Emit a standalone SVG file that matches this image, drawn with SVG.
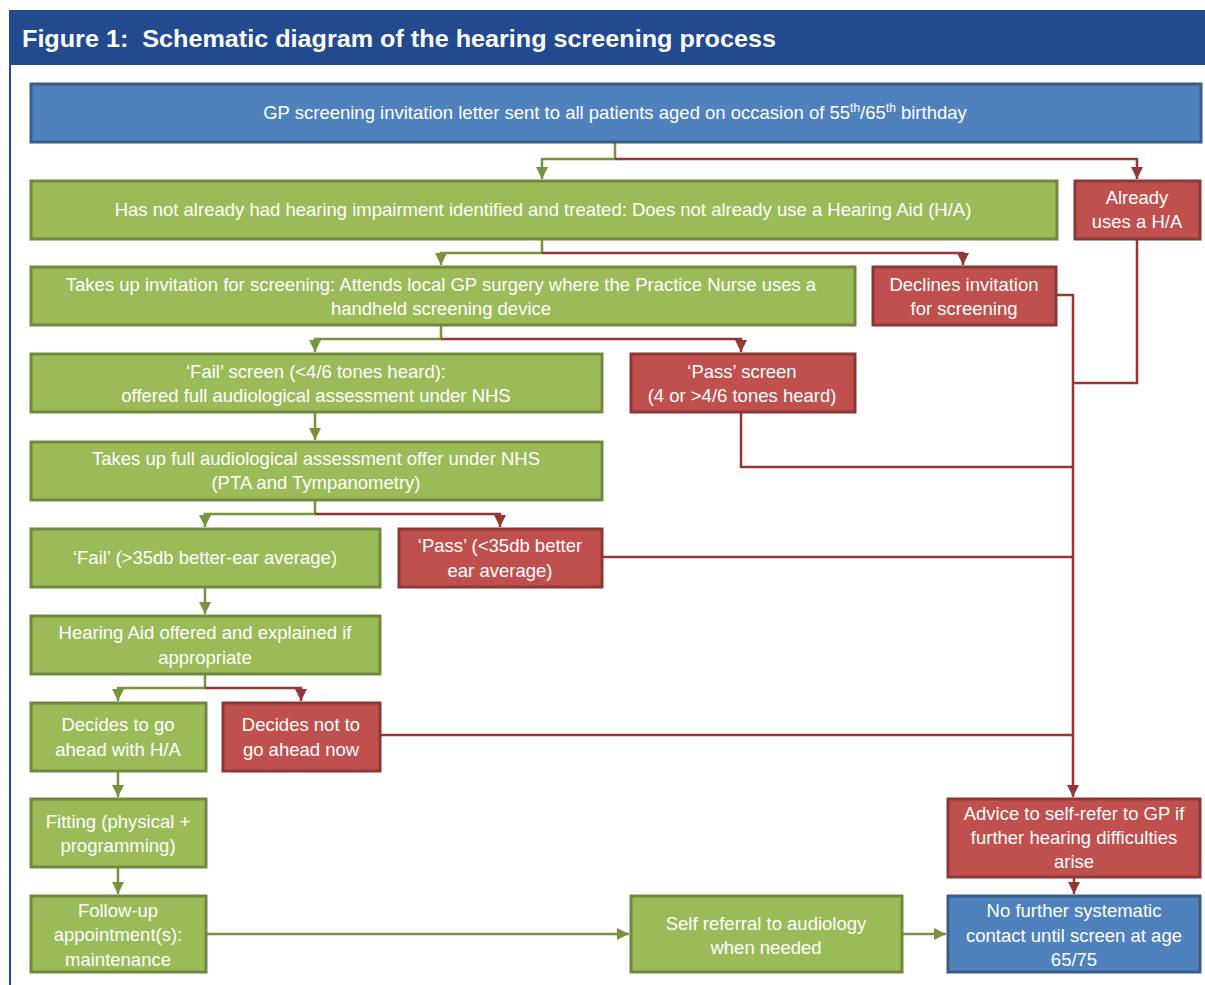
<svg xmlns="http://www.w3.org/2000/svg" width="1205" height="985" viewBox="0 0 1205 985">
<style>
  text { font-family: "Liberation Sans", Arial, sans-serif; font-size: 18.5px; fill: #ffffff; text-anchor: middle; }
  .title { font-size: 24px; font-weight: bold; text-anchor: start; }
  .g { fill: #9BBB59; stroke: #71893F; stroke-width: 3; }
  .r { fill: #C0504D; stroke: #8C3836; stroke-width: 3; }
  .b { fill: #4F81BD; stroke: #385D8A; stroke-width: 3; }
  .cg { fill: none; stroke: #77933C; stroke-width: 2.5; }
  .cr { fill: none; stroke: #953735; stroke-width: 2.5; }
</style>
<defs>
  <marker id="ag" viewBox="0 0 10 10" refX="10" refY="5" markerWidth="5" markerHeight="5" orient="auto" markerUnits="strokeWidth">
    <path d="M0,0 L10,5 L0,10 z" fill="#77933C"/>
  </marker>
  <marker id="ar" viewBox="0 0 10 10" refX="10" refY="5" markerWidth="5" markerHeight="5" orient="auto" markerUnits="strokeWidth">
    <path d="M0,0 L10,5 L0,10 z" fill="#953735"/>
  </marker>
</defs>
<rect x="0" y="0" width="1205" height="985" fill="#ffffff"/>
<g id="header">
  <rect x="9" y="10" width="1196" height="55" fill="#23498F"/>
  <line x1="10" y1="65" x2="10" y2="985" stroke="#23498F" stroke-width="2"/>
  <text class="title" x="22" y="47" textLength="754" lengthAdjust="spacingAndGlyphs">Figure 1:&#160; Schematic diagram of the hearing screening process</text>
</g>
<g id="connectors">
  <polyline class="cg" points="615,142 615,159 542,159 542,179" marker-end="url(#ag)"/>
  <polyline class="cr" points="615,159 1137,159 1137,179" marker-end="url(#ar)"/>
  <polyline class="cg" points="542,239 542,253 441,253 441,265" marker-end="url(#ag)"/>
  <polyline class="cr" points="542,253 963,253 963,265" marker-end="url(#ar)"/>
  <polyline class="cg" points="441,325 441,339 315,339 315,352" marker-end="url(#ag)"/>
  <polyline class="cr" points="441,339 741,339 741,352" marker-end="url(#ar)"/>
  <polyline class="cg" points="315,412 315,440" marker-end="url(#ag)"/>
  <polyline class="cg" points="315,500 315,514 205,514 205,527" marker-end="url(#ag)"/>
  <polyline class="cr" points="315,514 500,514 500,527" marker-end="url(#ar)"/>
  <polyline class="cg" points="205,587 205,614" marker-end="url(#ag)"/>
  <polyline class="cg" points="205,674 205,688 118,688 118,701" marker-end="url(#ag)"/>
  <polyline class="cr" points="205,688 301,688 301,701" marker-end="url(#ar)"/>
  <polyline class="cg" points="118,771 118,797" marker-end="url(#ag)"/>
  <polyline class="cg" points="118,867 118,894" marker-end="url(#ag)"/>
  <polyline class="cg" points="206,934 629,934" marker-end="url(#ag)"/>
  <polyline class="cg" points="902,934 946,934" marker-end="url(#ag)"/>
  <polyline class="cr" points="1056,295 1073,295 1073,797" marker-end="url(#ar)"/>
  <polyline class="cr" points="1137,239 1137,383 1073,383"/>
  <polyline class="cr" points="741,412 741,467 1073,467"/>
  <polyline class="cr" points="602,557 1073,557"/>
  <polyline class="cr" points="380,735 1073,735"/>
  <polyline class="cr" points="1074,877 1074,894" marker-end="url(#ar)"/>
</g>
<g id="n1">
  <rect class="b" x="31" y="84" width="1170" height="58"/>
  <text x="615" y="119">GP screening invitation letter sent to all patients aged on occasion of 55<tspan font-size="12" dy="-7">th</tspan><tspan dy="7">/65</tspan><tspan font-size="12" dy="-7">th</tspan><tspan dy="7"> birthday</tspan></text>
</g>
<g id="n2">
  <rect class="g" x="31" y="181" width="1026" height="58"/>
  <text x="543" y="216">Has not already had hearing impairment identified and treated: Does not already use a Hearing Aid (H/A)</text>
</g>
<g id="n3">
  <rect class="r" x="1075" y="181" width="125" height="58"/>
  <text x="1137" y="204">Already</text>
  <text x="1137" y="228">uses a H/A</text>
</g>
<g id="n4">
  <rect class="g" x="31" y="267" width="824" height="58"/>
  <text x="441" y="291">Takes up invitation for screening: Attends local GP surgery where the Practice Nurse uses a</text>
  <text x="441" y="315">handheld screening device</text>
</g>
<g id="n5">
  <rect class="r" x="873" y="267" width="183" height="58"/>
  <text x="964" y="291">Declines invitation</text>
  <text x="964" y="315">for screening</text>
</g>
<g id="n6">
  <rect class="g" x="31" y="354" width="571" height="58"/>
  <text x="316" y="378">‘Fail’ screen (&lt;4/6 tones heard):</text>
  <text x="316" y="402">offered full audiological assessment under NHS</text>
</g>
<g id="n7">
  <rect class="r" x="631" y="354" width="224" height="58"/>
  <text x="742" y="378">‘Pass’ screen</text>
  <text x="742" y="402">(4 or &gt;4/6 tones  heard)</text>
</g>
<g id="n8">
  <rect class="g" x="31" y="442" width="571" height="58"/>
  <text x="316" y="465">Takes up full audiological assessment offer under NHS</text>
  <text x="316" y="489">(PTA and Tympanometry)</text>
</g>
<g id="n9">
  <rect class="g" x="31" y="529" width="349" height="58"/>
  <text x="205" y="564">‘Fail’ (&gt;35db better-ear average)</text>
</g>
<g id="n10">
  <rect class="r" x="399" y="529" width="203" height="58"/>
  <text x="500" y="552">‘Pass’ (&lt;35db better</text>
  <text x="500" y="577">ear average)</text>
</g>
<g id="n11">
  <rect class="g" x="31" y="616" width="349" height="58"/>
  <text x="205" y="639">Hearing Aid offered and explained if</text>
  <text x="205" y="664">appropriate</text>
</g>
<g id="n12">
  <rect class="g" x="31" y="703" width="175" height="68"/>
  <text x="118" y="731">Decides to go</text>
  <text x="118" y="756">ahead with H/A</text>
</g>
<g id="n13">
  <rect class="r" x="223" y="703" width="157" height="68"/>
  <text x="301" y="731">Decides not to</text>
  <text x="301" y="756">go ahead now</text>
</g>
<g id="n14">
  <rect class="g" x="31" y="799" width="175" height="68"/>
  <text x="118" y="828">Fitting (physical +</text>
  <text x="118" y="852">programming)</text>
</g>
<g id="n15">
  <rect class="g" x="31" y="896" width="175" height="76"/>
  <text x="118" y="917">Follow-up</text>
  <text x="118" y="941">appointment(s):</text>
  <text x="118" y="966">maintenance</text>
</g>
<g id="n16">
  <rect class="g" x="631" y="896" width="271" height="76"/>
  <text x="766" y="930">Self referral to audiology</text>
  <text x="766" y="954">when needed</text>
</g>
<g id="n17">
  <rect class="r" x="948" y="799" width="252" height="78"/>
  <text x="1074" y="820">Advice to self-refer to GP if</text>
  <text x="1074" y="844">further hearing difficulties</text>
  <text x="1074" y="868">arise</text>
</g>
<g id="n18">
  <rect class="b" x="948" y="896" width="252" height="76"/>
  <text x="1074" y="917">No further systematic</text>
  <text x="1074" y="942">contact until screen at age</text>
  <text x="1074" y="966">65/75</text>
</g>
</svg>
